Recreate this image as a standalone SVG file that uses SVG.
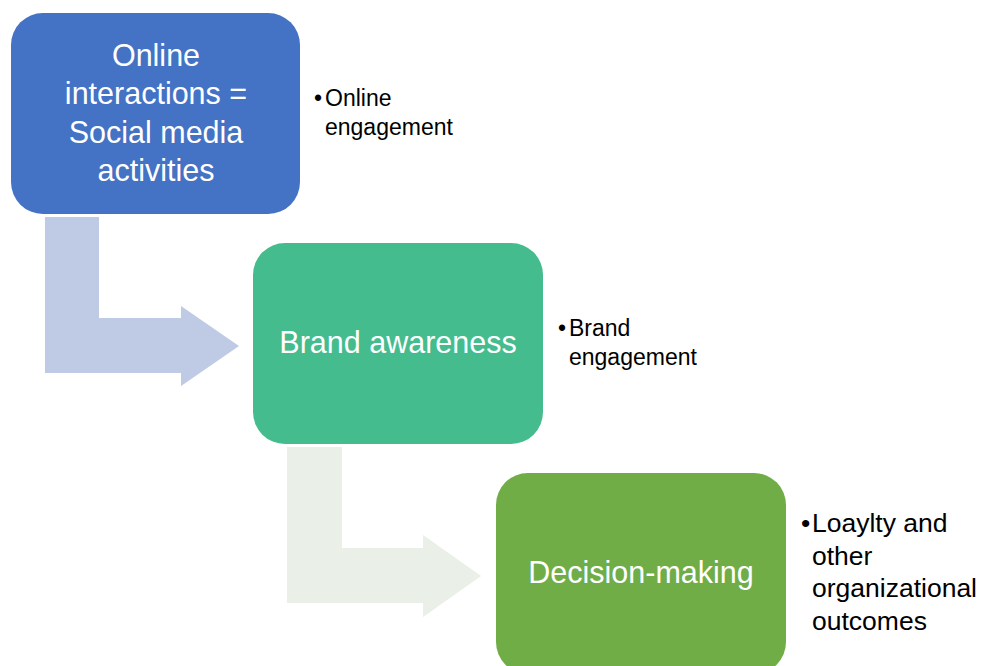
<svg xmlns="http://www.w3.org/2000/svg" width="987" height="666" viewBox="0 0 987 666">
  <style>
    .box-label { font-family: "Liberation Sans", Arial, sans-serif; font-size: 30.5px; fill: #ffffff; text-anchor: middle; }
    .note { font-family: "Liberation Sans", Arial, sans-serif; font-size: 23px; fill: #000000; }
    .note-lg { font-family: "Liberation Sans", Arial, sans-serif; font-size: 26.5px; fill: #000000; }
  </style>
  <rect width="987" height="666" fill="#ffffff"/>

  <!-- bent arrows linking the steps -->
  <g id="connectors">
    <path d="M45,217 H99 V318 H181 V306 L239,346 L181,386 V373 H45 Z" fill="#BFCAE5"/>
    <path d="M287,447 H342 V548 H423 V535 L481,576 L423,617 V603 H287 Z" fill="#EAEFE8"/>
  </g>

  <g id="node-online">
    <rect x="11" y="13" width="289" height="201" rx="32" fill="#4472C4"/>
    <text class="box-label" x="156" y="66">Online</text>
    <text class="box-label" x="156" y="104">interactions =</text>
    <text class="box-label" x="156" y="143">Social media</text>
    <text class="box-label" x="156" y="181">activities</text>
  </g>
  <g id="note-online">
    <text class="note" y="106"><tspan x="314">•</tspan><tspan x="325">Online</tspan></text>
    <text class="note" x="325" y="135">engagement</text>
  </g>

  <g id="node-brand">
    <rect x="253" y="243" width="290" height="201" rx="32" fill="#44BC8E"/>
    <text class="box-label" x="398" y="353">Brand awareness</text>
  </g>
  <g id="note-brand">
    <text class="note" y="336"><tspan x="558">•</tspan><tspan x="569">Brand</tspan></text>
    <text class="note" x="569" y="365">engagement</text>
  </g>

  <g id="node-decision">
    <rect x="496" y="473" width="290" height="201" rx="32" fill="#70AD47"/>
    <text class="box-label" x="641" y="583">Decision-making</text>
  </g>
  <g id="note-decision">
    <text class="note-lg" y="532"><tspan x="801">•</tspan><tspan x="812">Loaylty and</tspan></text>
    <text class="note-lg" x="812" y="565">other</text>
    <text class="note-lg" x="812" y="597">organizational</text>
    <text class="note-lg" x="812" y="630">outcomes</text>
  </g>
</svg>
